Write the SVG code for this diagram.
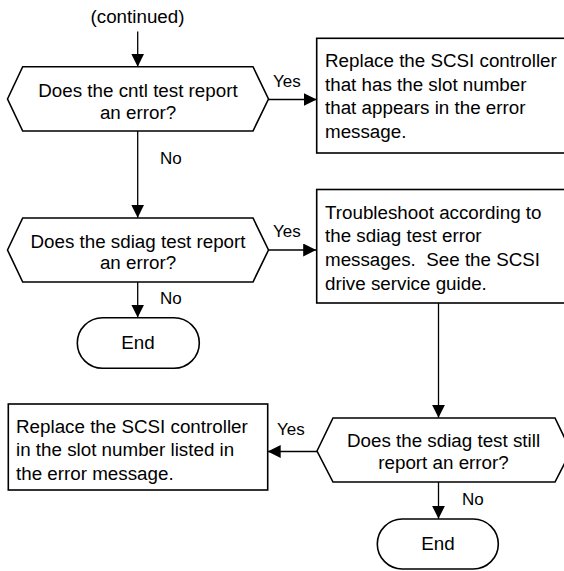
<svg xmlns="http://www.w3.org/2000/svg" width="564" height="571" viewBox="0 0 564 571">
<style>
.shape{fill:#fff;stroke:#000;stroke-width:1.6}
.conn{fill:none;stroke:#000;stroke-width:1.3}
text{font-family:"Liberation Sans",Arial,sans-serif;fill:#000}
.t{font-size:18.8px}
.c{text-anchor:middle}
.lbl{font-size:17px}
</style>
<defs>
<marker id="arr" markerUnits="userSpaceOnUse" markerWidth="14" markerHeight="14" refX="13" refY="6.5" orient="auto">
<path d="M0,0 L13,6.5 L0,13 z" fill="#000"/>
</marker>
</defs>
<rect width="564" height="571" fill="#fff"/>

<g id="start">
<text class="t c" x="137.5" y="22.7">(continued)</text>
</g>

<g id="q1">
<polygon class="shape" points="7.5,99 22.7,66.7 253,66.7 268.5,99 253,131 22.7,131"/>
<text class="t c" x="138" y="97">Does the cntl test report</text>
<text class="t c" x="138" y="118.5">an error?</text>
</g>

<g id="box1">
<rect class="shape" x="316.7" y="38.3" width="260" height="114.7"/>
<text class="t" x="325" y="66.8">Replace the SCSI controller</text>
<text class="t" x="325" y="90.5">that has the slot number</text>
<text class="t" x="325" y="114.2">that appears in the error</text>
<text class="t" x="325" y="138">message.</text>
</g>

<g id="q2">
<polygon class="shape" points="7.5,250 22.7,218 253,218 268.5,250 253,282 22.7,282"/>
<text class="t c" x="138" y="247.5">Does the sdiag test report</text>
<text class="t c" x="138" y="268.5">an error?</text>
</g>

<g id="box2">
<rect class="shape" x="316.7" y="189.5" width="260" height="113.5"/>
<text class="t" x="325" y="218.5">Troubleshoot according to</text>
<text class="t" x="325" y="242.3">the sdiag test error</text>
<text class="t" x="325" y="266" style="white-space:pre" xml:space="preserve">messages.  See the SCSI</text>
<text class="t" x="325" y="289.8">drive service guide.</text>
</g>

<g id="end1">
<rect class="shape" x="77.3" y="317.7" width="122" height="50.6" rx="25.3" ry="25.3"/>
<text class="t c" x="138" y="348.5">End</text>
</g>

<g id="q3">
<polygon class="shape" points="317,451 333,418 555,418 571,451 555,482 333,482"/>
<text class="t c" x="443.5" y="446.5">Does the sdiag test still</text>
<text class="t c" x="443.5" y="469">report an error?</text>
</g>

<g id="box3">
<rect class="shape" x="8.3" y="404" width="259.4" height="86"/>
<text class="t" x="16" y="432.7">Replace the SCSI controller</text>
<text class="t" x="16" y="456.2">in the slot number listed in</text>
<text class="t" x="16" y="479.8">the error message.</text>
</g>

<g id="end2">
<rect class="shape" x="377.3" y="519" width="121" height="50" rx="25" ry="25"/>
<text class="t c" x="438" y="550">End</text>
</g>

<g id="connectors">
<line class="conn" x1="137.7" y1="31.5" x2="137.7" y2="66.7" marker-end="url(#arr)"/>
<line class="conn" x1="268.5" y1="99.5" x2="316.7" y2="99.5" marker-end="url(#arr)"/>
<line class="conn" x1="137.7" y1="131" x2="137.7" y2="217.7" marker-end="url(#arr)"/>
<line class="conn" x1="268.5" y1="250" x2="316.2" y2="250" marker-end="url(#arr)"/>
<line class="conn" x1="137.7" y1="282" x2="137.7" y2="317.5" marker-end="url(#arr)"/>
<line class="conn" x1="438.5" y1="303" x2="438.5" y2="417.7" marker-end="url(#arr)"/>
<line class="conn" x1="317" y1="451.5" x2="267.7" y2="451.5" marker-end="url(#arr)"/>
<line class="conn" x1="438.5" y1="482" x2="438.5" y2="518.8" marker-end="url(#arr)"/>
<text class="lbl" x="273" y="86.5">Yes</text>
<text class="lbl" x="160" y="164">No</text>
<text class="lbl" x="273" y="236.5">Yes</text>
<text class="lbl" x="160" y="303.5">No</text>
<text class="lbl" x="277" y="435">Yes</text>
<text class="lbl" x="462" y="504.5">No</text>
</g>
</svg>
